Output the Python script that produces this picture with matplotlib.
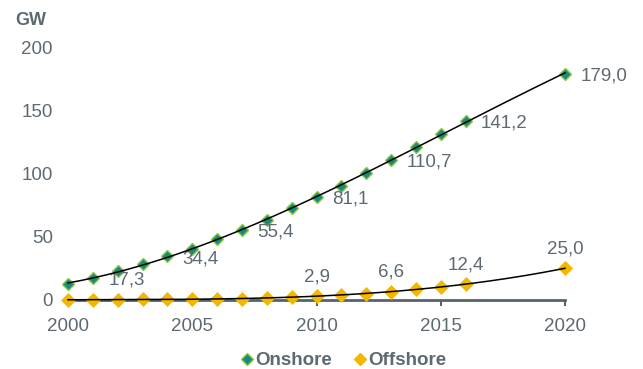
import numpy as np
import matplotlib
matplotlib.use("Agg")
import matplotlib.pyplot as plt
from matplotlib.lines import Line2D

plt.rcParams['font.family'] = ['Liberation Sans', 'DejaVu Sans']

years = list(range(2000, 2017)) + [2020]
onshore = [12.4, 17.3, 23.1, 28.4, 34.4, 40.3, 47.9, 55.4, 63.2, 72.9,
           81.1, 90.0, 100.5, 110.7, 120.6, 131.1, 141.2, 179.0]
offshore = [0.1, 0.1, 0.3, 0.5, 0.6, 0.7, 0.9, 1.1, 1.5, 2.1,
            2.9, 3.9, 5.1, 6.6, 8.7, 10.5, 12.4, 25.0]

onshore_labelled = [2001, 2004, 2007, 2010, 2013, 2016, 2020]
offshore_labelled = [2010, 2013, 2016, 2020]

TEXT = '#5d6a72'
TEAL = '#1b8a7e'
LIME = '#8dc63f'
GOLD = '#f2b800'
FS = 13.5

fig = plt.figure(figsize=(6.43, 3.69), dpi=100)
ax = fig.add_axes([0.1058, 0.187, 0.7729, 0.6856])

yrs = np.array(years)
ax.plot(yrs, onshore, 'D', ms=6.3, mfc=TEAL, mec=LIME, mew=1.0,
        clip_on=False, zorder=3, linestyle='none')
ax.plot(yrs, offshore, 'D', ms=6.8, mfc=GOLD, mec=GOLD, mew=0.5,
        clip_on=False, zorder=3, linestyle='none')

# polynomial trend lines through each series
xs = np.linspace(2000, 2020, 200)
for vals in (onshore, offshore):
    c = np.polyfit(yrs - 2000, vals, 3)
    ax.plot(xs, np.polyval(c, xs - 2000), color='black', lw=1.1,
            zorder=4, clip_on=False)

fmt = lambda v: f"{v:.1f}".replace('.', ',')
for y in onshore_labelled:
    v = onshore[years.index(y)]
    ax.annotate(fmt(v), (y, v), xytext=(11, -1.5), textcoords='offset points',
                ha='left', va='center', fontsize=FS, color=TEXT)
for y in offshore_labelled:
    v = offshore[years.index(y)]
    ax.annotate(fmt(v), (y, v), xytext=(0, 8), textcoords='offset points',
                ha='center', va='bottom', fontsize=FS, color=TEXT)

ax.set_xlim(2000, 2020)
ax.set_ylim(0, 200)
ax.set_xticks([2000, 2005, 2010, 2015, 2020])
ax.set_yticks([0, 50, 100, 150, 200])
for s in ('top', 'right', 'left'):
    ax.spines[s].set_visible(False)
ax.spines['bottom'].set_color('#56636b')
ax.spines['bottom'].set_linewidth(2)
ax.spines['bottom'].set_zorder(2)
ax.tick_params(axis='x', direction='out', length=4, width=1.5,
               color='#56636b', labelsize=FS, labelcolor=TEXT, pad=9)
ax.tick_params(axis='y', length=0, labelsize=FS, labelcolor=TEXT, pad=11)

fig.text(0.023, 0.945, 'GW', fontsize=13, fontweight='bold', color=TEXT,
         ha='left', va='center')

handles = [
    Line2D([], [], marker='D', ls='none', ms=6, mfc=TEAL, mec=LIME, mew=1.0),
    Line2D([], [], marker='D', ls='none', ms=6.5, mfc=GOLD, mec=GOLD),
]
fig.legend(handles, ['Onshore', 'Offshore'], loc='center',
           bbox_to_anchor=(0.535, 0.022), ncol=2, frameon=False,
           handlelength=0.6, handletextpad=0.15, columnspacing=1.2,
           borderpad=0, prop={'weight': 'bold', 'size': 13.5},
           labelcolor=TEXT)

fig.savefig('out.png', dpi=100, facecolor='white')
